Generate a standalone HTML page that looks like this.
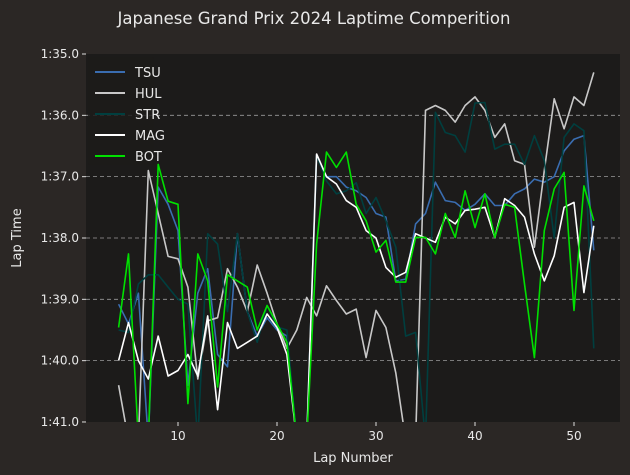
<!DOCTYPE html>
<html><head><meta charset="utf-8"><style>
html,body{margin:0;padding:0;width:630px;height:475px;overflow:hidden;background:#2b2725;font-family:"Liberation Sans","DejaVu Sans",sans-serif;}
svg{display:block;position:absolute;left:0;top:0;}
svg text{font-family:"DejaVu Sans","Liberation Sans",sans-serif;fill:#e8e8e8;}
</style></head><body>
<svg id="chart" width="630" height="475" xmlns="http://www.w3.org/2000/svg">
<rect width="630" height="475" fill="#2b2725"/>
<text x="314" y="24" font-size="16.5" text-anchor="middle">Japanese Grand Prix 2024 Laptime Comperition</text>
<rect x="86" y="54" width="534" height="368" fill="#1c1b1a"/>
<defs><clipPath id="clip"><rect x="86" y="54" width="534" height="368"/></clipPath></defs>
<g id="grid"></g><g id="series" clip-path="url(#clip)"></g><g id="axes"></g><g id="legend"></g>
</svg>
<script>
const laps = [];
for (let l = 4; l <= 52; l++) laps.push(l);
const yTicks = [95, 96, 97, 98, 99, 100, 101];
const yTickLabels = ["1:35.0","1:36.0","1:37.0","1:38.0","1:39.0","1:40.0","1:41.0"];
const xTicks = [10, 20, 30, 40, 50];
const driverNames = ["TSU","HUL","STR","MAG","BOT"];
const driverColors = ["#3a6db0","#c8c8c8","#003f3f","#ffffff","#00e000"];
// laps 4..52 (seconds); values >101 are off-chart
const tsu = [99.08,99.4,98.9,103,97.17,97.45,97.88,100.4,98.9,98.5,99.9,100.1,97.93,99.2,99.6,99.3,99.5,99.6,103,103,96.65,97.0,97.0,97.17,97.23,97.34,97.6,97.66,98.7,98.67,97.77,97.6,97.09,97.39,97.42,97.55,97.45,97.28,97.47,97.47,97.28,97.2,97.04,97.09,97.0,96.58,96.39,96.33,98.2];
const hul = [100.4,103,103,96.9,97.6,98.3,98.34,98.8,100.3,99.35,99.3,98.5,98.8,99.2,98.44,98.9,99.4,99.8,99.5,98.97,99.27,98.78,99.02,99.24,99.16,99.95,99.18,99.46,100.2,103,103,95.92,95.84,95.92,96.11,95.84,95.7,95.92,96.36,96.14,96.74,96.8,98.15,96.9,95.73,96.22,95.7,95.84,95.3];
const str = [99.5,99.54,98.75,98.6,98.6,98.8,99.0,99.08,103,97.93,98.1,99.2,97.93,99.2,99.7,99.1,99.45,99.5,103,103,96.65,97.07,97.28,97.23,97.1,97.6,97.34,97.72,98.15,99.6,99.54,103,95.95,96.28,96.33,96.6,95.8,95.79,96.55,96.47,96.47,96.8,96.33,96.74,98.0,96.36,96.14,96.25,99.8];
const mag = [100.0,99.38,100.0,100.3,99.6,100.25,100.16,99.9,100.25,99.27,100.8,99.38,99.8,99.7,99.6,99.24,99.46,99.9,103,103,96.63,97.0,97.12,97.39,97.5,97.88,98.0,98.48,98.64,98.56,97.93,98.0,98.07,97.66,97.77,97.55,97.53,97.5,97.99,97.36,97.47,97.66,98.26,98.7,98.29,97.5,97.42,98.89,97.8];
const bot = [99.46,98.26,103,103,96.8,97.4,97.45,100.7,98.26,98.7,100.43,98.6,98.7,98.8,99.5,99.1,99.4,99.7,103,103,98.1,96.6,96.85,96.6,97.45,97.72,98.23,98.04,98.72,98.72,97.99,97.99,98.26,97.6,97.99,97.23,97.83,97.28,97.99,97.45,97.5,98.75,99.95,97.88,97.2,96.93,99.18,97.15,97.72];
const seriesData = [tsu, hul, str, mag, bot];

const X0 = 79, XS = 9.9, Y0 = 54, YS = 61.33;
const xScale = l => X0 + XS * l;
const yScale = t => Y0 + (Math.min(t, 101.3) - 95) * YS;
const NS = "http://www.w3.org/2000/svg";
const mk = (tag, attrs, parent) => { const e = document.createElementNS(NS, tag); for (const k in attrs) e.setAttribute(k, attrs[k]); parent.appendChild(e); return e; };
const grid = document.getElementById("grid"), axes = document.getElementById("axes"), series = document.getElementById("series"), legend = document.getElementById("legend");

yTicks.forEach((t, i) => {
  const y = yScale(t);
  if (i > 0 && i < yTicks.length - 1) {
    const g = mk("line", {x1: 86, x2: 620, y1: y, y2: y, stroke: "#9a9a9a", "stroke-width": 0.8, "stroke-dasharray": "4,3"}, grid);
    
    
  }
  const tk = mk("line", {x1: 82, x2: 86, y1: y, y2: y, stroke: "#ddd"}, axes);
  
  
  const tx = mk("text", {x: 79, y: y + 4, "font-size": 12, "text-anchor": "end"}, axes);
  tx.textContent = yTickLabels[i];
  
  
});
xTicks.forEach(l => {
  const x = xScale(l);
  const tk = mk("line", {x1: x, x2: x, y1: 422, y2: 426, stroke: "#ddd"}, axes);
  
  
  const tx = mk("text", {x: x, y: 440, "font-size": 12, "text-anchor": "middle"}, axes);
  tx.textContent = l;
  
  
});
const xt = mk("text", {x: 353, y: 462, "font-size": 13, "text-anchor": "middle"}, axes);
xt.textContent = "Lap Number";


const yt = mk("text", {x: 21, y: 238, "font-size": 13, "text-anchor": "middle", transform: "rotate(-90 21 238)"}, axes);
yt.textContent = "Lap Time";



seriesData.forEach((vals, i) => {
  const pts = vals.map((v, j) => xScale(laps[j]).toFixed(1) + "," + yScale(v).toFixed(1)).join(" ");
  const p = mk("polyline", {points: pts, fill: "none", stroke: driverColors[i], "stroke-width": 1.6, "stroke-linejoin": "round"}, series);
  
  
});

const lb = mk("rect", {x: 88, y: 57, width: 66, height: 108, fill: "#1c1b1a", "fill-opacity": 0.85, rx: 2}, legend);


driverNames.forEach((n, i) => {
  const y = 72 + i * 21;
  const ln = mk("line", {x1: 95, x2: 125, y1: y, y2: y, stroke: driverColors[i], "stroke-width": 2}, legend);
  
  
  const t = mk("text", {x: 135, y: y + 5, "font-size": 13}, legend);
  t.textContent = n;
  
  
});
</script>
</body></html>
